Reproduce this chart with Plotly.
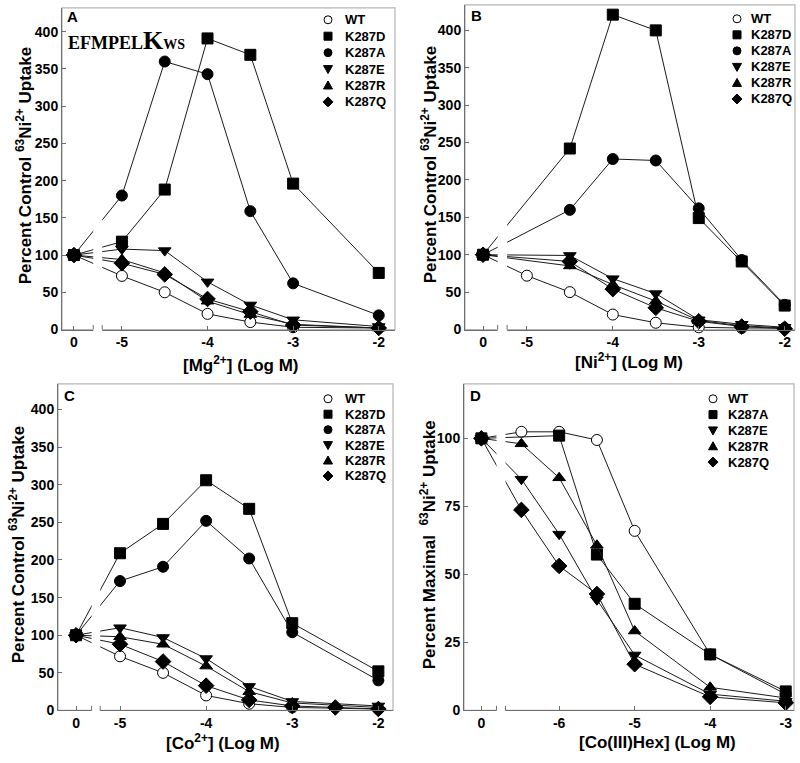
import plotly.graph_objects as go

# ---------------- data ----------------
# log10 concentrations; 0 = control (no added cation)
LOGM_A = [0, -5, -4.5, -4, -3.5, -3, -2]
WT_A = [100, 72, 50, 21, 10, 3, 2]
K287D_A = [100, 118, 188, 391, 369, 196, 76]
K287A_A = [100, 180, 360, 343, 159, 62, 19]
K287E_A = [100, 108, 106, 64, 33, 13, 4]
K287R_A = [100, 94, 76, 38, 20, 7, 2]
K287Q_A = [100, 89, 74, 41, 24, 6, 2]

LOGM_B = [0, -5, -4.5, -4, -3.5, -3, -2.5, -2]
WT_B = [100, 72, 50, 20, 9, 3, 2, 2]
K287D_B = [100, None, 242, 421, 400, 149, 91, 32]
K287A_B = [100, None, 160, 228, 226, 162, 93, 33]
K287E_B = [100, None, 99, 68, 48, 13, 7, 3]
K287R_B = [100, None, 85, 60, 38, 12, 5, 2]
K287Q_B = [100, None, 91, 54, 29, 11, 4, 1]

LOGM_C = [0, -5, -4.5, -4, -3.5, -3, -2.5, -2]
WT_C = [100, 72, 50, 20, 9, 4, None, 2]
K287D_C = [100, 209, 248, 306, 268, 116, None, 52]
K287A_C = [100, 172, 191, 252, 202, 104, None, 40]
K287E_C = [100, 110, 97, 69, 32, 12, None, 6]
K287R_C = [100, 98, 88, 59, 25, 10, None, 4]
K287Q_C = [100, 88, 65, 33, 14, 6, 4, 2]

LOGM_D = [0, -6.5, -6, -5.5, -5, -4, -3]
WT_D = [100, 102.4, 102.4, 99.4, 66, 20.6, 6]
K287A_D = [100, None, 101, 57.3, 39.2, 20.6, 7]
K287E_D = [100, 85, 64.8, 40.7, 20.4, 6, 3.4]
K287R_D = [100, 98, 85.5, 60.7, 29.2, 8.5, 4.6]
K287Q_D = [100, 73.7, 53.1, 42.8, 17, 5, 2.8]

TICKS_ABC = [0, -5, -4, -3, -2]
TICKS_D = [0, -6, -5, -4, -3]
Y_TICKS_ABC = list(range(0, 401, 50))
Y_TICKS_D = [0, 25, 50, 75, 100]

# ---------------- style ----------------
W, H = 800, 763
SANS = "Liberation Sans, Arial, sans-serif"
AXC = "#6e6e6e"
FRAME = "#b4b4b4"
LINEC = "#1a1a1a"

SYMBOL = {"WT": "circle", "K287D": "square", "K287A": "circle",
          "K287E": "triangle-down", "K287R": "triangle-up", "K287Q": "diamond"}
D_SYMBOL = dict(SYMBOL, K287A="square")  # panel D: K287A drawn with squares


def marker(name, sym):
    s = sym[name]
    size = 12 if s == "diamond" else 11
    fill = "white" if name == "WT" else "black"
    return dict(symbol=s, size=size, color=fill, line=dict(color="black", width=1))


def px_x(p):
    return p / W


def px_y(p):
    return 1 - p / H


def legend_shape(sym, cx, cy):
    """Legend glyph drawn in pixel units around an anchor in paper coords."""
    base = dict(xref="paper", yref="paper", xsizemode="pixel", ysizemode="pixel",
                xanchor=px_x(cx), yanchor=px_y(cy), line=dict(color="black", width=1),
                layer="above")
    if sym in ("circle", "circle-open"):
        d = dict(base, type="circle", x0=-4, x1=4, y0=-4, y1=4)
    elif sym == "square":
        d = dict(base, type="rect", x0=-4, x1=4, y0=-4, y1=4)
    elif sym == "triangle-down":
        d = dict(base, type="path", path="M -4.5,3.5 L 4.5,3.5 L 0,-4.5 Z")
    elif sym == "triangle-up":
        d = dict(base, type="path", path="M -4.5,-3.5 L 4.5,-3.5 L 0,4.5 Z")
    else:
        d = dict(base, type="path", path="M 0,5 L 5,0 L 0,-5 L -5,0 Z")
    d["fillcolor"] = "white" if sym == "circle-open" else "black"
    return d


panels = [
    dict(key="", logm=LOGM_A, sym=SYMBOL,
         series=[("WT", WT_A), ("K287D", K287D_A), ("K287A", K287A_A), ("K287E", K287E_A),
                 ("K287R", K287R_A), ("K287Q", K287Q_A)],
         dom_x=[62, 395], dom_y=[8, 333], xr=[-5.70, -1.81], yr=[0, 432], ctrl=-5.56,
         brk=[-5.335, -5.23], ticks=TICKS_ABC, yt=Y_TICKS_ABC, letter="A", let_xy=(65, 17),
         leg=(328, 343, 20, 16.6),
         ytitle="Percent Control <sup>63</sup>Ni<sup>2+</sup> Uptake", yt_xy=(24, 168),
         xtitle="[Mg<sup>2+</sup>] (Log M)", xt_xy=(241, 368)),
    dict(key="2", logm=LOGM_B, sym=SYMBOL,
         series=[("WT", WT_B), ("K287D", K287D_B), ("K287A", K287A_B), ("K287E", K287E_B),
                 ("K287R", K287R_B), ("K287Q", K287Q_B)],
         dom_x=[465, 795], dom_y=[5, 333], xr=[-5.72, -1.88], yr=[0, 434], ctrl=-5.51,
         brk=[-5.34, -5.23], ticks=TICKS_ABC, yt=Y_TICKS_ABC, letter="B", let_xy=(469, 16),
         leg=(737, 749, 19, 16.2),
         ytitle="Percent Control <sup>63</sup>Ni<sup>2+</sup> Uptake", yt_xy=(429, 167),
         xtitle="[Ni<sup>2+</sup>] (Log M)", xt_xy=(629, 365)),
    dict(key="3", logm=LOGM_C, sym=SYMBOL,
         series=[("WT", WT_C), ("K287D", K287D_C), ("K287A", K287A_C), ("K287E", K287E_C),
                 ("K287R", K287R_C), ("K287Q", K287Q_C)],
         dom_x=[58, 393], dom_y=[388, 718], xr=[-5.72, -1.83], yr=[0, 434], ctrl=-5.51,
         brk=[-5.33, -5.23], ticks=TICKS_ABC, yt=Y_TICKS_ABC, letter="C", let_xy=(62, 400),
         leg=(328, 343, 403, 15.6),
         ytitle="Percent Control <sup>63</sup>Ni<sup>2+</sup> Uptake", yt_xy=(17, 551),
         xtitle="[Co<sup>2+</sup>] (Log M)", xt_xy=(223, 750)),
    dict(key="4", logm=LOGM_D, sym=D_SYMBOL,
         series=[("WT", WT_D), ("K287A", K287A_D), ("K287E", K287E_D),
                 ("K287R", K287R_D), ("K287Q", K287Q_D)],
         dom_x=[464, 794], dom_y=[388, 718], xr=[-7.26, -2.89], yr=[0, 120], ctrl=-7.03,
         brk=[-6.83, -6.71], ticks=TICKS_D, yt=Y_TICKS_D, letter="D", let_xy=(468, 400),
         leg=(713, 726, 403, 16.0),
         ytitle="Percent Maximal  <sup>63</sup>Ni<sup>2+</sup> Uptake", yt_xy=(428, 551),
         xtitle="[Co(III)Hex] (Log M)", xt_xy=(657, 750)),
]

fig = go.Figure()
shapes = []
annotations = []
layout = {}

for p in panels:
    k = p["key"]
    xa, ya = "x" + k, "y" + k
    disp = lambda v, c=p["ctrl"]: c if v == 0 else v
    xs = [disp(v) for v in p["logm"]]
    for name, ys in p["series"]:
        fig.add_trace(go.Scatter(
            x=xs, y=ys, mode="lines+markers", connectgaps=True, cliponaxis=False,
            line=dict(color=LINEC, width=1), marker=marker(name, p["sym"]), name=name,
            xaxis=xa, yaxis=ya, showlegend=False, hoverinfo="skip"))

    layout["xaxis" + k] = dict(
        domain=[px_x(p["dom_x"][0]), px_x(p["dom_x"][1])], anchor=ya, range=p["xr"],
        tickvals=[disp(v) for v in p["ticks"]], ticktext=[str(v) for v in p["ticks"]],
        ticks="inside", ticklen=4, tickcolor=AXC, showline=True, linecolor=AXC, linewidth=1,
        showgrid=False, zeroline=False,
        tickfont=dict(family=SANS, size=14, color="black", weight="bold"))
    layout["yaxis" + k] = dict(
        domain=[px_y(p["dom_y"][1]), px_y(p["dom_y"][0])], anchor=xa, range=p["yr"],
        tickvals=p["yt"], ticks="inside", ticklen=4, tickcolor=AXC, showline=True,
        linecolor=AXC, linewidth=1, showgrid=False, zeroline=False,
        tickfont=dict(family=SANS, size=14, color="black", weight="bold"))

    dref_x = xa + " domain"
    dref_y = ya + " domain"
    # light frame on top / right
    shapes.append(dict(type="rect", xref=dref_x, yref=dref_y, x0=0, x1=1, y0=0, y1=1,
                       line=dict(color=FRAME, width=1.2), layer="below"))
    # axis break: white gap through the lines and the axis
    shapes.append(dict(type="rect", xref=xa, yref=dref_y, x0=p["brk"][0], x1=p["brk"][1],
                       y0=-0.02, y1=0.97, fillcolor="white", line=dict(width=0), layer="above"))
    for bx in p["brk"]:
        shapes.append(dict(type="line", xref=xa, yref=dref_y, x0=bx, x1=bx, y0=0, y1=0.014,
                           line=dict(color=AXC, width=1), layer="above"))

    # legend (glyph + label rows)
    mx, tx_, y0, dy = p["leg"]
    for i, (name, _) in enumerate(p["series"]):
        cy = y0 + i * dy
        s = p["sym"][name]
        shapes.append(legend_shape("circle-open" if name == "WT" else s, mx, cy))
        annotations.append(dict(text="<b>%s</b>" % name, x=px_x(tx_), y=px_y(cy),
                                xref="paper", yref="paper", xanchor="left", yanchor="middle",
                                showarrow=False, font=dict(family=SANS, size=13, color="black")))

    lx, ly = p["let_xy"]
    annotations.append(dict(text="<b>%s</b>" % p["letter"], x=px_x(lx), y=px_y(ly),
                            xref="paper", yref="paper", xanchor="left", yanchor="middle",
                            showarrow=False, font=dict(family=SANS, size=15, color="black")))
    tx, ty = p["yt_xy"]
    annotations.append(dict(text="<b>%s</b>" % p["ytitle"], x=px_x(tx), y=px_y(ty),
                            xref="paper", yref="paper", xanchor="center", yanchor="middle",
                            textangle=-90, showarrow=False,
                            font=dict(family=SANS, size=17, color="black")))
    tx, ty = p["xt_xy"]
    annotations.append(dict(text="<b>%s</b>" % p["xtitle"], x=px_x(tx), y=px_y(ty),
                            xref="paper", yref="paper", xanchor="center", yanchor="middle",
                            showarrow=False, font=dict(family=SANS, size=17, color="black")))

annotations.append(dict(
    text="EFMPEL<span style='font-size:26px'>K</span><span style='font-size:14px'>WS</span>",
    x=px_x(66), y=px_y(41), xref="paper", yref="paper", xanchor="left", yanchor="middle",
    showarrow=False, font=dict(family="Liberation Serif, Times New Roman, serif", size=18,
                               color="black", weight="bold")))

fig.update_layout(
    width=W, height=H, margin=dict(l=0, r=0, t=0, b=0), showlegend=False,
    paper_bgcolor="white", plot_bgcolor="white",
    shapes=shapes, annotations=annotations, **layout)

fig.write_html("out.html", config={"displayModeBar": False, "staticPlot": True},
               post_script="document.body.style.margin='0';"
                           "document.documentElement.style.overflow='hidden';"
                           "document.body.style.overflow='hidden';")
